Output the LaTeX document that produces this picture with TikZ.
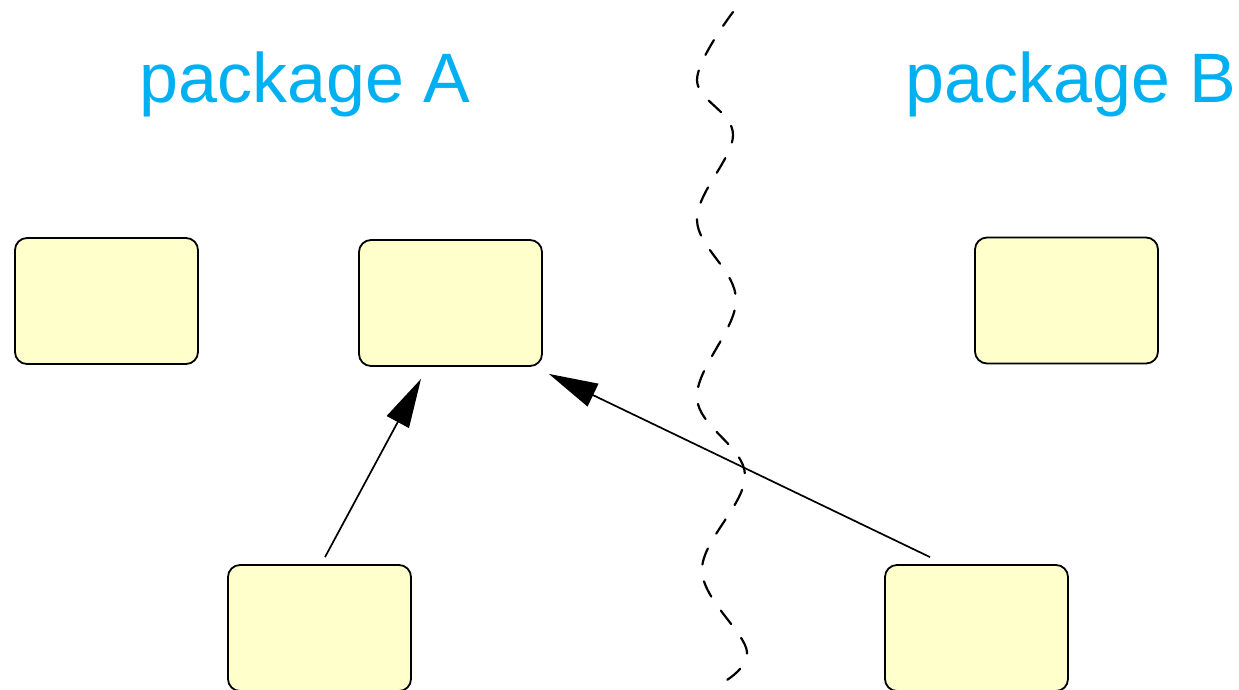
\documentclass[tikz,border=0pt]{standalone}
\usepackage{fontspec}
\setmainfont{Liberation Sans}
\usetikzlibrary{arrows.meta}
\definecolor{pkgblue}{RGB}{0,176,240}
\definecolor{boxfill}{RGB}{255,255,204}
\tikzset{
	classbox/.style={draw=black,line width=1.8pt,fill=boxfill,rounded corners=12pt,minimum width=183pt,minimum height=126pt,inner sep=0pt},
	pkglabel/.style={text=pkgblue,font=\fontsize{70}{84}\selectfont,anchor=base,inner sep=0pt},
	dep/.style={line width=1.7pt,-{Triangle[length=49pt,width=25pt]}},
	border/.style={line width=2.2pt,dash pattern=on 17pt off 17pt,line cap=round}
}
\begin{document}
\begin{tikzpicture}[x=1pt,y=-1pt]
				\useasboundingbox (0,0) rectangle (1239,689);
				\node[pkglabel] (pkgA) at (305,102) {package A};
				\node[pkglabel] (pkgB) at (1071,102) {package B};
				\foreach \n/\x/\y in {boxA1/106.5/301,boxA2/450.5/303,boxB1/1066.5/300.5,boxA3/319.5/628,boxB2/976.5/628}
					\node[classbox] (\n) at (\x,\y) {};
				\draw[border] plot[smooth,tension=0.6] coordinates {(733,12) (697,80) (733,135) (697,220) (736,300) (697,398) (745,475) (702,570) (747,652) (713,688)};
				\draw[dep] ([xshift=5.5pt,yshift=7pt]boxA3.north)--([xshift=-29.5pt,yshift=-12pt]boxA2.south);
				\draw[dep] ([xshift=-46.5pt,yshift=7pt]boxB2.north)--([xshift=6pt,yshift=-7pt]boxA2.south east);
			\end{tikzpicture}
\end{document}
